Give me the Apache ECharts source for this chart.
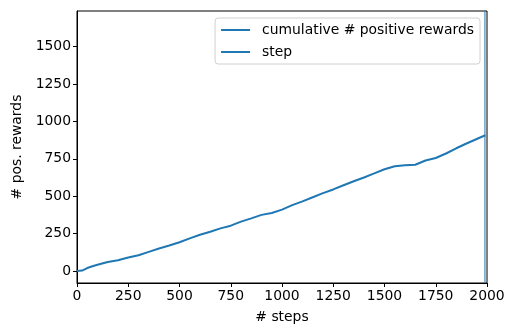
<!DOCTYPE html>
<html>
<head>
<meta charset="utf-8">
<script src="https://cdn.jsdelivr.net/npm/echarts@6/dist/echarts.min.js"></script>
<style>
  html, body { margin: 0; padding: 0; background: #fff; }
  #chart { width: 519px; height: 329px; }
</style>
</head>
<body>
<div id="chart"></div>
<script>
// cumulative count of positive rewards
const steps = [0, 25, 50, 75, 100, 150, 200, 250, 300, 350, 400, 450, 500, 550, 600, 650, 700, 750,
  800, 850, 900, 950, 1000, 1050, 1100, 1150, 1200, 1250, 1300, 1350, 1400, 1450, 1500,
  1550, 1600, 1650, 1700, 1750, 1800, 1850, 1900, 1950, 1992];
const posRewards = [0, 3, 20, 32, 42, 60, 72, 90, 105, 128, 150, 170, 192, 218, 242, 262, 285, 303,
  330, 352, 375, 388, 410, 440, 465, 493, 520, 545, 573, 600, 625, 652, 680,
  700, 707, 710, 738, 755, 785, 820, 852, 882, 907];
const stepMarker = 1990;
const yMin = -80;
const yMax = 1737;
const yTicks = [0, 250, 500, 750, 1000, 1250, 1500];
const seriesNames = ['cumulative # positive rewards', 'step'];

const font = 'DejaVu Sans';
const fs = 13.9;
const blue = '#1f77b4';

const chart = echarts.init(document.getElementById('chart'), null, { renderer: 'canvas' });

const lineData = steps.map((s, i) => [s, posRewards[i]]);

chart.setOption({
  animation: false,
  textStyle: { fontFamily: font },
  grid: {
    left: 77, right: 32, top: 11, bottom: 46,
    show: true, borderColor: '#000', borderWidth: 1
  },
  legend: {
    orient: 'vertical',
    right: 39,
    top: 18,
    padding: [5, 6, 5, 5],
    itemGap: 8,
    itemWidth: 29,
    itemHeight: 14,
    borderColor: '#d0d0d0',
    borderWidth: 1,
    borderRadius: 3,
    backgroundColor: '#fff',
    itemStyle: { opacity: 0 },
    textStyle: { fontSize: fs, color: '#000', fontFamily: font, padding: [0, 0, 0, 7] },
    data: seriesNames
  },
  xAxis: {
    type: 'value',
    min: 0,
    max: 2000,
    interval: 250,
    name: '# steps',
    nameLocation: 'middle',
    nameGap: 27,
    nameTextStyle: { fontSize: fs, color: '#000' },
    axisLine: { show: true, onZero: false, lineStyle: { color: '#000', width: 1 } },
    axisTick: { show: true, length: 4, lineStyle: { color: '#000' } },
    axisLabel: { color: '#000', fontSize: fs, margin: 6, formatter: (v) => String(v) },
    splitLine: { show: false }
  },
  yAxis: {
    type: 'value',
    min: yMin,
    max: yMax,
    name: '# pos. rewards',
    nameLocation: 'middle',
    nameGap: 51,
    nameTextStyle: { fontSize: fs, color: '#000' },
    axisLine: { show: true, onZero: false, lineStyle: { color: '#000', width: 1 } },
    axisTick: { show: true, length: 4, lineStyle: { color: '#000' }, customValues: yTicks },
    axisLabel: { color: '#000', fontSize: fs, margin: 6, customValues: yTicks, formatter: (v) => String(v) },
    splitLine: { show: false }
  },
  series: [
    {
      name: seriesNames[0],
      type: 'line',
      data: lineData,
      symbol: 'none',
      lineStyle: { color: blue, width: 2 },
      itemStyle: { color: blue }
    },
    {
      name: seriesNames[1],
      type: 'line',
      data: [[stepMarker, yMin], [stepMarker, yMax]],
      symbol: 'none',
      lineStyle: { color: blue, width: 1 },
      itemStyle: { color: blue }
    }
  ]
});
</script>
</body>
</html>
